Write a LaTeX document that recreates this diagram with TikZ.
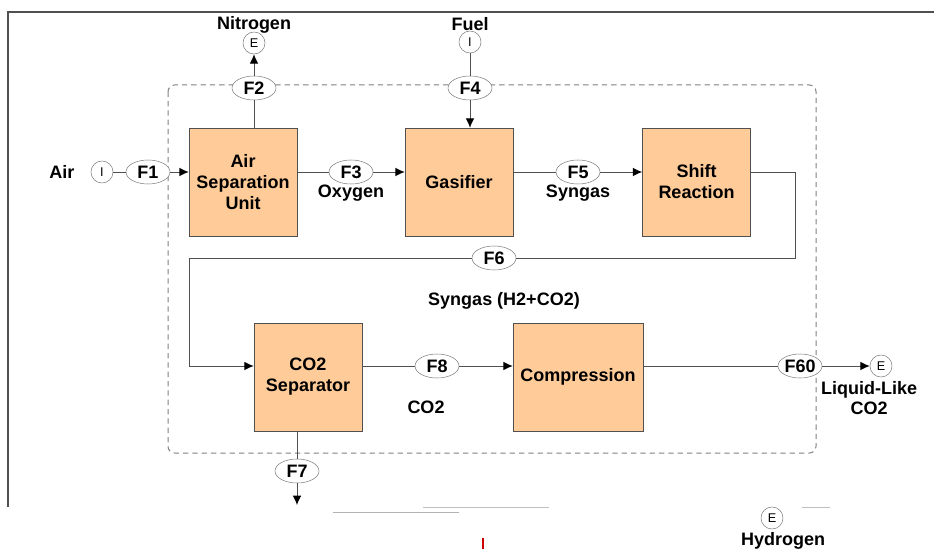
\documentclass[tikz,border=0pt]{standalone}
\usepackage{fontspec}
\setmainfont{Liberation Sans}
\usetikzlibrary{arrows.meta, positioning, shapes.geometric, calc}
\definecolor{unitfill}{RGB}{255,204,153}
\definecolor{linegray}{RGB}{80,80,80}
\tikzset{
  unit/.style={draw=linegray, fill=unitfill, minimum width=81pt,
               minimum height=81pt, inner sep=0pt, align=center,
               font=\fontsize{13.5}{15.75}\selectfont\bfseries},
  stream/.style={ellipse, draw=gray, fill=white, minimum width=33pt,
                 minimum height=18pt, inner sep=0pt,
                 font=\fontsize{13.5}{15}\selectfont\bfseries},
  port/.style={circle, draw=gray, fill=white, minimum size=16.5pt,
               inner sep=0pt, font=\fontsize{9.5}{10}\selectfont},
  flowlabel/.style={inner sep=0pt, align=center,
                    font=\fontsize{13.5}{14.5}\selectfont\bfseries},
  pipe/.style={draw=linegray, line width=0.75pt},
  flow/.style={-{Latex[length=7pt, width=6.5pt, color=black]}, draw=linegray,
               line width=0.75pt},
}
\begin{document}
\begin{tikzpicture}[x=0.75pt, y=-0.75pt]
  \useasboundingbox (0,0) rectangle (934,549);
  % sheet frame and plant boundary
  \draw[linegray, line width=0.9pt] (8,507) -- (8,12) -- (934,12);
  \draw[gray, line width=0.75pt, dash pattern=on 4pt off 3pt, rounded corners=5pt]
    (168,85) rectangle (816,453);

  % units
  \node[unit] (asu) at (243,182) {Air\\Separation\\Unit};
  \node[unit] (gasifier) at (459,182) {Gasifier};
  \node[unit] (shift) at (696.5,182) {Shift\\Reaction};
  \node[unit] (separator) at (308,377) {CO2\\Separator};
  \node[unit, minimum width=97.5pt] (compression) at (578,377) {Compression};

  % streams
  \node[stream] (f1) at (148,172) {F1};
  \node[stream] (f2) at (254,88) {F2};
  \node[stream] (f3) at (351,172) {F3};
  \node[stream] (f4) at (470,88) {F4};
  \node[stream] (f5) at (578,172) {F5};
  \node[stream] (f6) at (494,258) {F6};
  \node[stream] (f7) at (297,471) {F7};
  \node[stream] (f8) at (437,366) {F8};
  \node[stream] (f60) at (800,366) {F60};

  % inlets and exits
  \node[port] (air) at (102,172) {I};
  \node[port] (fuel) at (470,42) {I};
  \node[port] (nitrogen) at (254,43) {E};
  \node[port] (co2out) at (881,366) {E};
  \node[port] (hydrogen) at (772,518) {E};

  % labels
  \node[flowlabel] (airlbl) at (62,172) {Air};
  \node[flowlabel] (fuellbl) at (470,24) {Fuel};
  \node[flowlabel] (nitrogenlbl) at (254,25) {Nitrogen};
  \node[flowlabel] (oxygenlbl) at (351,193) {Oxygen};
  \node[flowlabel] (syngaslbl) at (578,193) {Syngas};
  \node[flowlabel] (mixlbl) at (504,301) {Syngas (H2+CO2)};
  \node[flowlabel] (co2lbl) at (426,407) {CO2};
  \node[flowlabel] (liquidlbl) at (869,398) {Liquid-Like\\CO2};
  \node[flowlabel] (hydrogenlbl) at (783,541) {Hydrogen};

  \coordinate (loopr) at (795,258);
  \coordinate (loopl) at (189,366);
  \coordinate (co2sink) at (297,505);

  % connections
  \draw[pipe] (air) -- (f1);
  \draw[flow] (f1) -- (f1 -| asu.west);
  \draw[pipe] (f2 |- asu.north) -- (f2);
  \draw[flow] (f2) -- (nitrogen);
  \draw[pipe] (asu.east |- f3) -- (f3);
  \draw[flow] (f3) -- (f3 -| gasifier.west);
  \draw[pipe] (fuel) -- (f4);
  \draw[flow] (f4) -- (f4 |- gasifier.north);
  \draw[pipe] (gasifier.east |- f5) -- (f5);
  \draw[flow] (f5) -- (f5 -| shift.west);
  \draw[pipe] (shift.east |- f5) -| (loopr) -- (f6);
  \draw[flow] (f6) -| (loopl) -- (loopl -| separator.west);
  \draw[pipe] (separator.east |- f8) -- (f8);
  \draw[flow] (f8) -- (f8 -| compression.west);
  \draw[pipe] (compression.east |- f60) -- (f60);
  \draw[flow] (f60) -- (co2out);
  \draw[pipe] (f7 |- separator.south) -- (f7);
  \draw[flow] (f7) -- (co2sink);

  % remains of the cut-off lower part
  \draw[gray!60] (333,512) -- (459,512);
  \draw[gray!50] (423,507) -- (549,507);
  \draw[gray!50] (802,507) -- (830,507);
  \draw[red!80!black, line width=1.2pt] (483,538) -- (483,549);
\end{tikzpicture}
\end{document}
